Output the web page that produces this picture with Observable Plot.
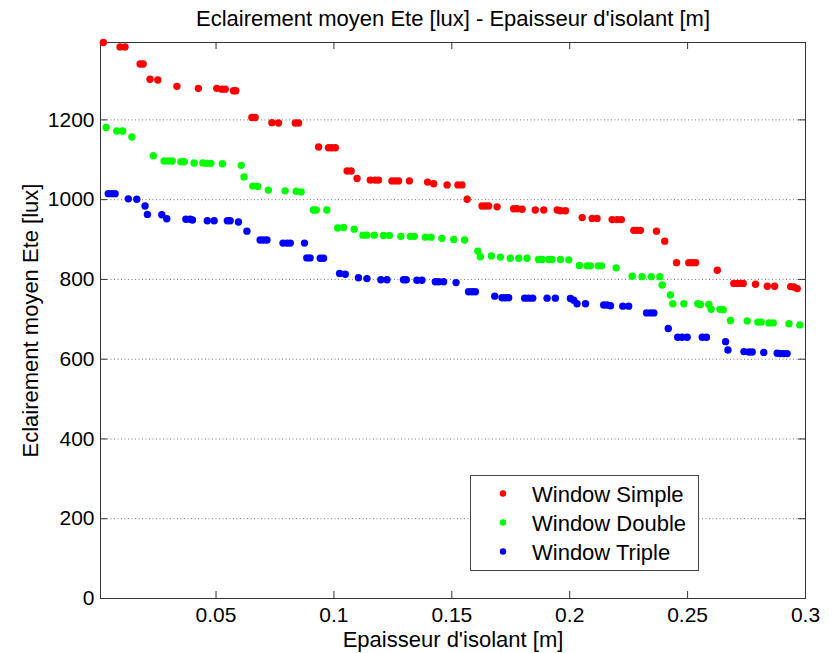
<!DOCTYPE html>
<html>
<head>
<meta charset="utf-8">
<script src="https://cdn.jsdelivr.net/npm/d3@7"></script>
<script src="https://cdn.jsdelivr.net/npm/@observablehq/plot@0.6"></script>
<style>
  body { margin: 0; background: #fff; font-family: "Liberation Sans", Arial, sans-serif; }
  #wrap { position: relative; width: 834px; height: 653px; }
  #legend { position: absolute; left: 470px; top: 475px; }
</style>
</head>
<body>
<div id="wrap"><div id="chart"></div><div id="legend"></div></div>
<script>
// ---------- data ----------
const titleText = "Eclairement moyen Ete [lux] - Epaisseur d'isolant [m]";
const xLabel = "Epaisseur d'isolant [m]";
const yLabel = "Eclairement moyen Ete [lux]";

const seriesNames = ["Window Simple", "Window Double", "Window Triple"];
const seriesColors = ["#ff0000", "#00ff00", "#0000ff"];

const xTicks = [0.05, 0.1, 0.15, 0.2, 0.25, 0.3];
const xTickLabels = ["0.05", "0.1", "0.15", "0.2", "0.25", "0.3"];
const yTicks = [0, 200, 400, 600, 800, 1000, 1200];
const yTickLabels = ["0", "200", "400", "600", "800", "1000", "1200"];
const xDomain = [0.001, 0.3];
const yDomain = [0, 1394];

// [epaisseur (m), eclairement (lux)]
const simplePoints = [
  [0.0022,1394],[0.0093,1383],[0.0114,1383],[0.0178,1340],[0.0191,1340],[0.0220,1302],[0.0253,1300],
  [0.0334,1284],[0.0425,1279],[0.0503,1279],[0.0525,1277],[0.0539,1277],[0.0574,1273],[0.0584,1273],
  [0.0652,1206],[0.0666,1206],[0.0737,1193],[0.0765,1192],[0.0836,1192],[0.0850,1192],[0.0935,1132],
  [0.0977,1130],[0.0991,1130],[0.1006,1130],[0.1056,1072],[0.1073,1072],[0.1098,1053],[0.1154,1049],
  [0.1175,1049],[0.1189,1049],[0.1246,1047],[0.1260,1047],[0.1274,1047],[0.1320,1047],[0.1397,1044],
  [0.1423,1040],[0.1480,1037],[0.1526,1037],[0.1543,1037],[0.1565,1001],[0.1628,984],[0.1642,984],
  [0.1656,984],[0.1692,982],[0.1762,977],[0.1777,977],[0.1798,976],[0.1854,974],[0.1890,974],
  [0.1947,974],[0.1961,972],[0.1982,972],[0.2053,955],[0.2095,953],[0.2116,953],[0.2180,950],
  [0.2201,950],[0.2219,950],[0.2272,923],[0.2286,923],[0.2300,923],[0.2368,921],[0.2403,896],
  [0.2453,842],[0.2505,842],[0.2520,842],[0.2534,842],[0.2626,823],[0.2696,790],[0.2711,790],
  [0.2724,790],[0.2736,790],[0.2788,788],[0.2838,783],[0.2869,783],[0.2937,782],[0.2951,781],[0.2965,777]
];
const doublePoints = [
  [0.0034,1181],[0.0079,1172],[0.0104,1172],[0.0143,1157],[0.0234,1110],[0.0280,1097],[0.0297,1097],
  [0.0314,1097],[0.0351,1095],[0.0365,1095],[0.0407,1092],[0.0444,1092],[0.0461,1091],[0.0478,1091],
  [0.0527,1090],[0.0607,1086],[0.0619,1057],[0.0656,1034],[0.0677,1033],[0.0722,1024],[0.0793,1022],
  [0.0840,1021],[0.0861,1019],[0.0913,974],[0.0925,974],[0.0970,974],[0.1016,929],[0.1041,930],
  [0.1086,926],[0.1123,911],[0.1140,911],[0.1171,911],[0.1210,910],[0.1235,910],[0.1284,908],
  [0.1324,908],[0.1341,908],[0.1388,906],[0.1412,906],[0.1458,903],[0.1508,900],[0.1554,899],
  [0.1610,871],[0.1621,857],[0.1668,859],[0.1706,856],[0.1748,853],[0.1784,853],[0.1819,853],
  [0.1868,850],[0.1883,850],[0.1911,850],[0.1925,850],[0.1961,850],[0.1996,849],[0.2041,835],
  [0.2074,834],[0.2088,834],[0.2121,834],[0.2135,834],[0.2197,829],[0.2265,808],[0.2307,807],
  [0.2346,807],[0.2382,807],[0.2392,786],[0.2427,761],[0.2437,739],[0.2484,739],[0.2543,739],
  [0.2555,737],[0.2590,737],[0.2600,725],[0.2637,725],[0.2651,724],[0.2682,697],[0.2753,696],
  [0.2798,693],[0.2812,693],[0.2845,691],[0.2863,691],[0.2930,689],[0.2976,686]
];
const triplePoints = [
  [0.0043,1015],[0.0058,1015],[0.0072,1015],[0.0128,1002],[0.0164,1001],[0.0199,984],[0.0209,963],
  [0.0270,962],[0.0291,952],[0.0372,951],[0.0390,951],[0.0400,949],[0.0463,947],[0.0492,947],
  [0.0548,947],[0.0560,947],[0.0595,944],[0.0631,921],[0.0687,899],[0.0701,899],[0.0716,899],
  [0.0784,891],[0.0801,891],[0.0815,891],[0.0875,891],[0.0885,854],[0.0899,854],[0.0942,853],
  [0.0956,853],[0.1024,815],[0.1048,813],[0.1104,804],[0.1140,802],[0.1199,799],[0.1225,799],
  [0.1295,799],[0.1307,799],[0.1352,798],[0.1373,798],[0.1430,794],[0.1444,794],[0.1465,794],
  [0.1518,792],[0.1571,769],[0.1586,769],[0.1600,769],[0.1682,758],[0.1713,754],[0.1727,754],
  [0.1741,754],[0.1809,753],[0.1826,753],[0.1843,753],[0.1904,753],[0.1939,753],[0.2003,752],
  [0.2017,748],[0.2031,739],[0.2067,739],[0.2144,736],[0.2159,736],[0.2173,734],[0.2225,733],
  [0.2250,733],[0.2326,716],[0.2343,716],[0.2357,716],[0.2418,677],[0.2458,655],[0.2477,655],
  [0.2498,655],[0.2562,655],[0.2580,655],[0.2661,644],[0.2671,623],[0.2739,619],[0.2760,618],
  [0.2774,618],[0.2823,617],[0.2880,615],[0.2894,614],[0.2908,614],[0.2922,614]
];

// ---------- layout ----------
const W = 834, H = 653;
const mL = 100, mR = 29, mT = 42, mB = 55;
const plotW = W - mL - mR, plotH = H - mT - mB;
const tickLen = 7;
const axisColor = "#333";
const font = "'Liberation Sans', Arial, sans-serif";

const points = [simplePoints, doublePoints, triplePoints].flatMap((arr, i) =>
  arr.map(([x, y]) => ({x, y, series: seriesNames[i]})));

const chart = Plot.plot({
  width: W, height: H,
  marginLeft: mL, marginRight: mR, marginTop: mT, marginBottom: mB,
  style: {fontFamily: font, fontSize: "21px", background: "#fff", color: "#000", overflow: "visible"},
  x: {domain: xDomain},
  y: {domain: yDomain},
  color: {domain: seriesNames, range: seriesColors},
  marks: [
    Plot.gridY(yTicks, {stroke: "#777", strokeOpacity: 1, strokeDasharray: "1,2.5"}),
    Plot.frame({stroke: axisColor}),
    Plot.tickX(xTicks, {x: d => d, insetTop: plotH - tickLen, stroke: axisColor}),
    Plot.tickX(xTicks, {x: d => d, insetBottom: plotH - tickLen, stroke: axisColor}),
    Plot.tickY(yTicks, {y: d => d, insetRight: plotW - tickLen, stroke: axisColor}),
    Plot.tickY(yTicks, {y: d => d, insetLeft: plotW - tickLen, stroke: axisColor}),
    Plot.axisX(xTicks, {tickSize: 0, tickPadding: 9, label: null, fontSize: 21,
      tickFormat: d => xTickLabels[xTicks.indexOf(d)]}),
    Plot.axisY(yTicks, {tickSize: 0, tickPadding: 6, label: null, fontSize: 21,
      tickFormat: d => yTickLabels[yTicks.indexOf(d)]}),
    Plot.dot(points, {x: "x", y: "y", fill: "series", r: 3.7}),
    Plot.text([titleText], {text: d => d, frameAnchor: "top", dy: -24, lineAnchor: "middle", fontSize: 22}),
    Plot.text([xLabel], {text: d => d, frameAnchor: "bottom", textAnchor: "middle", dy: 41, lineAnchor: "middle", fontSize: 22}),
    Plot.text([yLabel], {text: d => d, frameAnchor: "left", textAnchor: "middle", dx: -70, rotate: -90, lineAnchor: "middle", fontSize: 22})
  ]
});
document.getElementById("chart").appendChild(chart);

// ---------- legend ----------
const lw = 228, lh = 95;
const leg = d3.select("#legend").append("svg").attr("width", lw + 2).attr("height", lh + 2)
  .style("font-family", font);
leg.append("rect").attr("x", 0.5).attr("y", 0.5).attr("width", lw).attr("height", lh)
  .attr("fill", "#fff").attr("stroke", "#444");
seriesNames.forEach((name, i) => {
  const cy = 18.5 + i * 29;
  leg.append("circle").attr("cx", 33).attr("cy", cy).attr("r", 3.2).attr("fill", seriesColors[i]);
  leg.append("text").attr("x", 62).attr("y", cy + 8).attr("font-size", 22).attr("fill", "#000").text(name);
});
</script>
</body>
</html>
